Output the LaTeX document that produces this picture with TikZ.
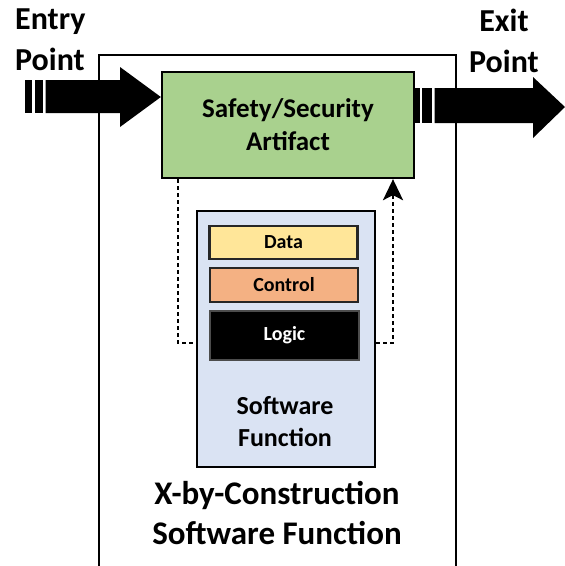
\documentclass[tikz,border=0pt]{standalone}
\usepackage{fontspec}
\setmainfont{Carlito}
\usetikzlibrary{arrows.meta}
\definecolor{artgreen}{HTML}{A9D18E}
\definecolor{swblue}{HTML}{DAE3F3}
\definecolor{datayellow}{HTML}{FFE699}
\definecolor{ctrlorange}{HTML}{F4B183}
\tikzset{
  box/.style={draw=black, line width=2.3pt, inner sep=0pt, font=\bfseries},
  part/.style={draw=black!85, line width=2.3pt, inner sep=0pt, font=\bfseries\fontsize{20}{22}\selectfont},
  label/.style={inner sep=0pt, font=\bfseries, align=center},
  flow/.style={line width=2.8pt, dash pattern=on 4pt off 3pt},
  bigarrow/.style={fill=black, draw=none},
}
\begin{document}
\begin{tikzpicture}[x=1pt, y=-1pt]
\useasboundingbox[fill=white] (0,0) rectangle (565,566);

% enclosing X-by-Construction frame, open at the bottom
\draw[line width=2pt] (99,566) -- (99,55) -- (456,55) -- (456,566);

% safety/security artifact
\node[box, fill=artgreen, minimum width=252pt, minimum height=106pt,
      align=center, font=\bfseries\fontsize{27}{33}\selectfont]
  (art) at (288,125) {Safety/Security\\Artifact};

% software function with its parts
\node[box, fill=swblue, minimum width=178pt, minimum height=256pt] (sw) at (286,339) {};
\node[part, fill=datayellow, minimum width=148pt, minimum height=33pt] (data) at (283.5,242.5) {Data};
\node[part, fill=ctrlorange, minimum width=148pt, minimum height=34pt] (ctrl) at (284,285) {Control};
\node[part, fill=black, text=white, draw=black!70, minimum width=149pt, minimum height=49pt] (logic) at (284.5,335.5) {Logic};
\node[label, font=\bfseries\fontsize{26}{32}\selectfont] (swname) at (285,422) {Software\\Function};

% caption of the frame
\node[label, font=\bfseries\fontsize{33}{40}\selectfont] (xbc) at (277,513) {X-by-Construction\\Software Function};

% entry and exit captions
\node[label, align=left, anchor=north west, font=\bfseries\fontsize{32}{41}\selectfont] (entry) at (15,9) {Entry\\Point};
\node[label, anchor=north, font=\bfseries\fontsize{32}{41}\selectfont] (exit) at (504,9) {Exit\\Point};

% entry arrow into the artifact
\coordinate (intip) at (art.west |- 0,97);
\fill[bigarrow] (25,80) rectangle (32,113);
\fill[bigarrow] (34.5,80) rectangle (43,113);
\fill[bigarrow] (45.5,80) -- (120,80) -- (120,67) -- (intip) -- (120,127) -- (120,113) -- (45.5,113) -- cycle;

% exit arrow out of the artifact
\coordinate (outtip) at (565,107);
\fill[bigarrow] (415,88) rectangle (419.5,123);
\fill[bigarrow] (422,88) rectangle (432,123);
\fill[bigarrow] (434.5,88) -- (533,88) -- (533,77) -- (outtip) -- (533,138) -- (533,123) -- (434.5,123) -- cycle;

% information flow between the function and the artifact
\draw[flow] (art.south -| 178,0) -- (178,343) -- (sw.west |- 0,343);
\draw[flow, -{Stealth[length=21pt, width=20pt, inset=5pt]}] (sw.east |- 0,343) -- (393,343) -- (art.south -| 393,0);
\end{tikzpicture}
\end{document}
